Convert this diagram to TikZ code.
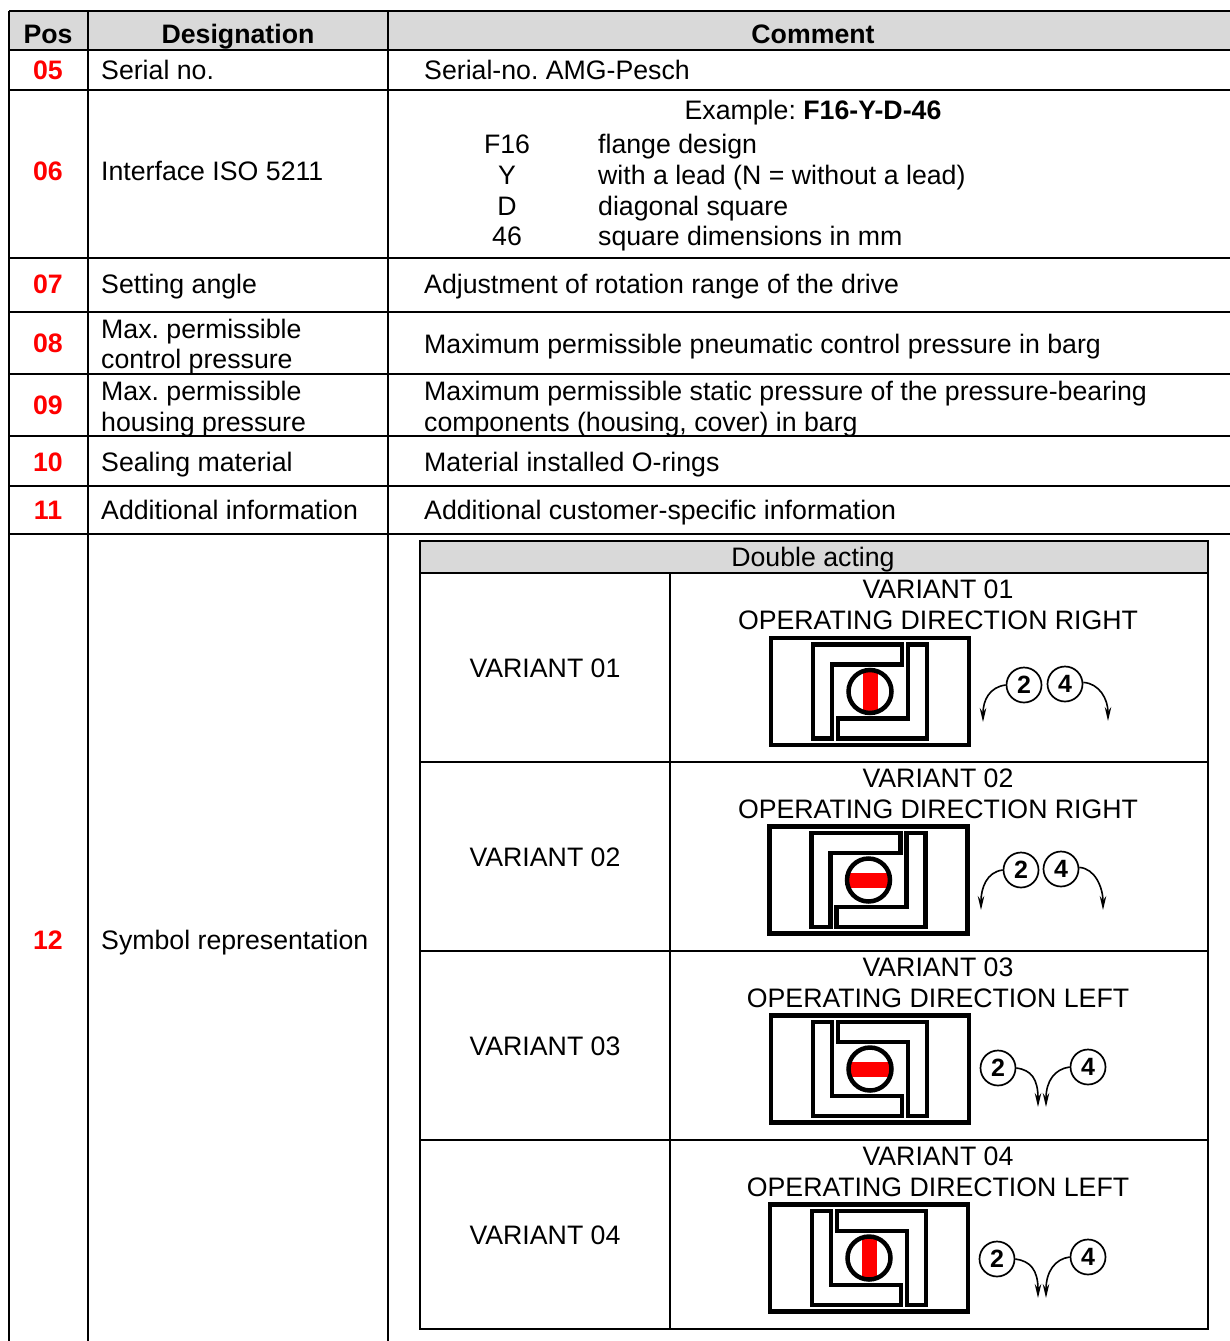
\documentclass[tikz,border=0pt]{standalone}
\usepackage{fontspec}
\setmainfont{Liberation Sans}
\usepackage{tikz}
\definecolor{hd}{RGB}{217, 217, 217}
\definecolor{rd}{RGB}{255, 0, 0}
\usetikzlibrary{arrows.meta}
\frenchspacing
\newcommand{\bodyfont}{\fontsize{26.7pt}{30pt}\selectfont}
\newcommand{\portfont}{\fontsize{25pt}{25pt}\selectfont\bfseries}

\begin{document}
\begin{tikzpicture}[x=1pt, y=1pt,
  grid/.style={line width=2.6pt, color=black},
  subgrid/.style={line width=2.2pt, color=black},
  txt/.style={anchor=base west, inner sep=0pt, font=\bodyfont},
  mid/.style={anchor=base, inner sep=0pt, font=\bodyfont},
  head/.style={anchor=base, inner sep=0pt, font=\bodyfont\bfseries},
  posnum/.style={anchor=base, inner sep=0pt, font=\bodyfont\bfseries, text=rd},
  port/.style={circle, minimum size=35pt, inner sep=0pt, line width=1.7pt, draw=black, fill=white, font=\portfont},
  turn/.style={line width=1.6pt, color=black, -{Stealth[length=14pt, width=6.5pt]}},
  symline/.style={line width=4.5pt, draw=black, fill=white},
  pics/valve/.style={code={
    \draw [symline] (-99,-53.5) rectangle (99,53.5);
    \draw [symline] (-57,47) -- (32,47) -- (32,27) -- (-38,27) -- (-38,-47) -- (-57,-47) -- cycle;
    \draw [symline] (57,-47) -- (-32,-47) -- (-32,-27) -- (38,-27) -- (38,47) -- (57,47) -- cycle;
    \fill [rd, rotate=#1] (-7.5,-21.5) rectangle (7.5,21.5);
    \draw [line width=4.5pt, color=black] (0,0) circle (21.5);
  }}]
\useasboundingbox (0,0) rectangle (1229,-1341);
% main table
\fill [hd] (9,-11) rectangle (1231,-50);
\draw [grid] (9,-11) -- (1231,-11);
\foreach \y in {50,90,258,312,374,436,486,534}
  \draw [grid] (9,-\y) -- (1231,-\y);
\foreach \x in {9,88,388}
  \draw [grid] (\x,-11) -- (\x,-1343);
\node (hpos) [head] at (48,-43) {Pos};
\node (hdes) [head] at (238,-43) {Designation};
\node (hcom) [head] at (813,-43) {Comment};
% rows
\node (n05) [posnum] at (48,-79) {05};
\node (d05) [txt] at (101,-79) {Serial no.};
\node (c05) [txt] at (424,-79) {Serial-no. AMG-Pesch};
\node (n06) [posnum] at (48,-180) {06};
\node (d06) [txt] at (101,-180) {Interface ISO 5211};
\node (c06) [mid] at (813,-119) {Example: \textbf{F16-Y-D-46}};
\node (k1) [mid] at (507,-153) {F16};
\node (k2) [mid] at (507,-184) {Y};
\node (k3) [mid] at (507,-215) {D};
\node (k4) [mid] at (507,-245) {46};
\node (e1) [txt] at (598,-153) {flange design};
\node (e2) [txt] at (598,-184) {with a lead (N = without a lead)};
\node (e3) [txt] at (598,-215) {diagonal square};
\node (e4) [txt] at (598,-245) {square dimensions in mm};
\node (n07) [posnum] at (48,-293) {07};
\node (d07) [txt] at (101,-293) {Setting angle};
\node (c07) [txt] at (424,-293) {Adjustment of rotation range of the drive};
\node (n08) [posnum] at (48,-352) {08};
\node (d08a) [txt] at (101,-338) {Max. permissible};
\node (d08b) [txt] at (101,-368) {control pressure};
\node (c08) [txt] at (424,-353) {Maximum permissible pneumatic control pressure in barg};
\node (n09) [posnum] at (48,-414) {09};
\node (d09a) [txt] at (101,-400) {Max. permissible};
\node (d09b) [txt] at (101,-431) {housing pressure};
\node (c09a) [txt] at (424,-400) {Maximum permissible static pressure of the pressure-bearing};
\node (c09b) [txt] at (424,-431) {components (housing, cover) in barg};
\node (n10) [posnum] at (48,-471) {10};
\node (d10) [txt] at (101,-471) {Sealing material};
\node (c10) [txt] at (424,-471) {Material installed O-rings};
\node (n11) [posnum] at (48,-519) {11};
\node (d11) [txt] at (101,-519) {Additional information};
\node (c11) [txt] at (424,-519) {Additional customer-specific information};
\node (n12) [posnum] at (48,-949) {12};
\node (d12) [txt] at (101,-949) {Symbol representation};
% inner table
\fill [hd] (420,-541) rectangle (1208,-573);
\draw [subgrid] (420,-541) rectangle (1208,-1329);
\draw [subgrid] (420,-573) -- (1208,-573);
\foreach \y in {762,951,1140}
  \draw [subgrid] (420,-\y) -- (1208,-\y);
\draw [subgrid] (670,-573) -- (670,-1329);
\node (dbl) [mid] at (813,-566) {Double acting};
% variant 01
\node (l1) [mid] at (545,-677) {VARIANT 01};
\node (r1a) [mid] at (938,-598) {VARIANT 01};
\node (r1b) [mid] at (938,-629) {OPERATING DIRECTION RIGHT};
\pic at (870,-691.5) {valve=0};
\node (p2a) [port] at (1024,-685) {2};
\node (p4a) [port] at (1065,-684) {4};
\coordinate (t2a) at (983,-722);
\coordinate (t4a) at (1108,-721);
\draw [turn] (p2a.west) .. controls +(-16,-2) and +(0,22) .. (t2a);
\draw [turn] (p4a.5) .. controls +(16,-1) and +(0,22) .. (t4a);
% variant 02
\node (l2) [mid] at (545,-866) {VARIANT 02};
\node (r2a) [mid] at (938,-787) {VARIANT 02};
\node (r2b) [mid] at (938,-818) {OPERATING DIRECTION RIGHT};
\pic at (868.5,-880) {valve=90};
\node (p2b) [port] at (1021,-870) {2};
\node (p4b) [port] at (1061,-869) {4};
\coordinate (t2b) at (981,-910);
\coordinate (t4b) at (1103,-910);
\draw [turn] (p2b.west) .. controls +(-16,-2) and +(0,22) .. (t2b);
\draw [turn] (p4b.5) .. controls +(16,-1) and +(0,22) .. (t4b);
% variant 03
\node (l3) [mid] at (545,-1055) {VARIANT 03};
\node (r3a) [mid] at (938,-976) {VARIANT 03};
\node (r3b) [mid] at (938,-1007) {OPERATING DIRECTION LEFT};
\pic [xscale=-1] at (870,-1069) {valve=90};
\node (p2c) [port] at (998,-1068) {2};
\node (p4c) [port] at (1088,-1067) {4};
\coordinate (t2c) at (1038,-1107);
\coordinate (t4c) at (1046,-1107);
\draw [turn] (p2c.east) .. controls +(15,-2) and +(0,28) .. (t2c);
\draw [turn] (p4c.west) .. controls +(-15,-2) and +(0,26) .. (t4c);
% variant 04
\node (l4) [mid] at (545,-1244) {VARIANT 04};
\node (r4a) [mid] at (938,-1165) {VARIANT 04};
\node (r4b) [mid] at (938,-1196) {OPERATING DIRECTION LEFT};
\pic [xscale=-1] at (869,-1258) {valve=0};
\node (p2d) [port] at (997,-1259) {2};
\node (p4d) [port] at (1088,-1257) {4};
\coordinate (t2d) at (1038,-1298);
\coordinate (t4d) at (1046,-1298);
\draw [turn] (p2d.east) .. controls +(15,-2) and +(0,28) .. (t2d);
\draw [turn] (p4d.west) .. controls +(-15,-2) and +(0,26) .. (t4d);
\end{tikzpicture}
\end{document}
